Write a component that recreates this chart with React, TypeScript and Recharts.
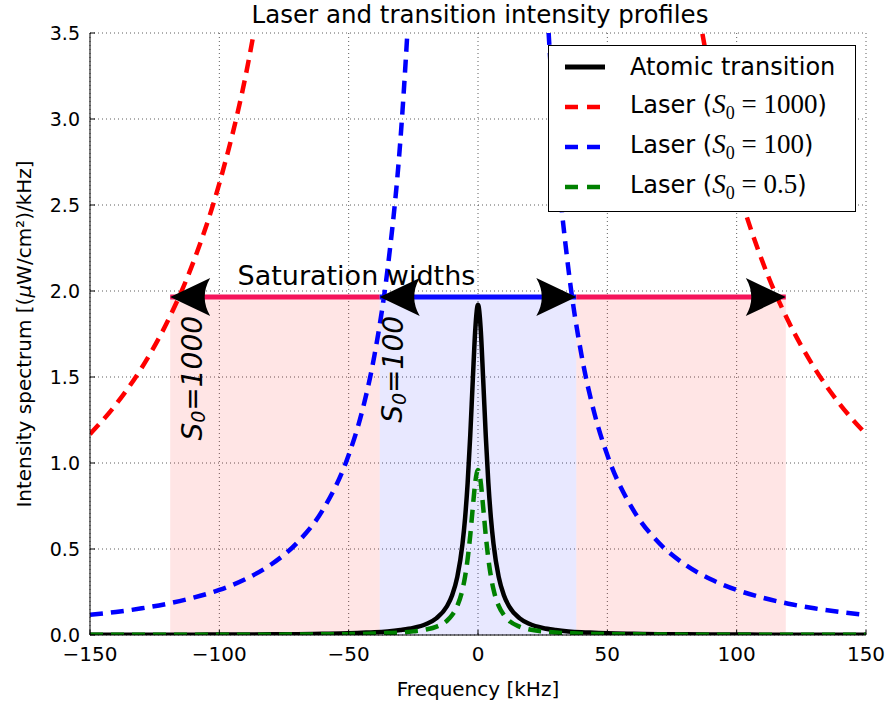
import React from 'react';
import {
  ComposedChart, Line, XAxis, YAxis, CartesianGrid, ReferenceArea, ReferenceLine,
  ReferenceDot, Legend, Customized,
} from 'recharts';

// frequency detuning samples [kHz]
const freqs = [
  -150, -140, -130, -120, -110, -100, -90, -80, -70, -60, -50, -45, -40, -35, -30, -25,
  -20, -16, -12, -10, -8, -6, -5, -4, -3, -2, -1, 0, 1, 2, 3, 4, 5, 6, 8, 10, 12, 16, 20,
  25, 30, 35, 40, 45, 50, 60, 70, 80, 90, 100, 110, 120, 130, 140, 150,
];

// intensity spectra [(uW/cm2)/kHz]
const atomic = [
  0.001, 0.001, 0.002, 0.002, 0.002, 0.003, 0.003, 0.004, 0.005, 0.007, 0.010, 0.013, 0.016,
  0.021, 0.029, 0.041, 0.064, 0.098, 0.167, 0.231, 0.338, 0.529, 0.679, 0.885, 1.159, 1.486,
  1.789, 1.92, 1.789, 1.486, 1.159, 0.885, 0.679, 0.529, 0.338, 0.231, 0.167, 0.098, 0.064,
  0.041, 0.029, 0.021, 0.016, 0.013, 0.010, 0.007, 0.005, 0.004, 0.003, 0.003, 0.002, 0.002,
  0.002, 0.001, 0.001,
];
const laser1000 = [
  1.168, 1.340, 1.554, 1.824, 2.170, 2.625, 3.239, 4.098,
  null, null, null, null, null, null, null, null, null, null, null, null, null, null, null,
  null, null, null, null, null, null, null, null, null, null, null, null, null, null, null,
  null, null, null, null, null, null, null, null, null,
  4.098, 3.239, 2.625, 2.170, 1.824, 1.554, 1.340, 1.168,
];
const laser100 = [
  0.117, 0.134, 0.155, 0.182, 0.217, 0.262, 0.324, 0.410, 0.535, 0.727, 1.046, 1.289, 1.629,
  2.122, 2.877, 4.116,
  null, null, null, null, null, null, null, null, null, null, null, null, null, null, null,
  null, null, null, null, null, null, null, null,
  4.116, 2.877, 2.122, 1.629, 1.289, 1.046, 0.727, 0.535, 0.410, 0.324, 0.262, 0.217, 0.182,
  0.155, 0.134, 0.117,
];
const laser05 = [
  0.001, 0.001, 0.001, 0.001, 0.001, 0.001, 0.002, 0.002, 0.003, 0.004, 0.005, 0.006, 0.008,
  0.011, 0.014, 0.021, 0.032, 0.049, 0.083, 0.116, 0.169, 0.264, 0.340, 0.443, 0.579, 0.743,
  0.895, 0.96, 0.895, 0.743, 0.579, 0.443, 0.340, 0.264, 0.169, 0.116, 0.083, 0.049, 0.032,
  0.021, 0.014, 0.011, 0.008, 0.006, 0.005, 0.004, 0.003, 0.002, 0.002, 0.001, 0.001, 0.001,
  0.001, 0.001, 0.001,
];

const xTicks = [-150, -100, -50, 0, 50, 100, 150];
const yTicks = [0, 0.5, 1, 1.5, 2, 2.5, 3, 3.5];

// saturation half widths [kHz] for S0 = 1000 and S0 = 100, and the arrow level
const satWidths = [119, 38];
const satLabels = ['1000', '100'];
const satLabelX = [-110.5, -33];
const arrowLevel = 1.965;

const series = [
  { key: 'atomic', label: 'Atomic transition', s0: '', color: '#000000', dashed: false },
  { key: 'laser1000', label: 'Laser', s0: '1000', color: '#ff0000', dashed: true },
  { key: 'laser100', label: 'Laser', s0: '100', color: '#0000ff', dashed: true },
  { key: 'laser05', label: 'Laser', s0: '0.5', color: '#008000', dashed: true },
];

const rows = freqs.map((f, i) => ({
  freq: f,
  atomic: atomic[i],
  laser1000: laser1000[i],
  laser100: laser100[i],
  laser05: laser05[i],
}));

const font = '"DejaVu Sans", sans-serif';
const mathFont = '"Liberation Serif", serif';
const DASH = '13 8';

const fmtX = (v: number) => String(v).replace('-', '\u2212');

const ArrowHead = ({ cx, cy, dir }: { cx: number; cy: number; dir: number }) => {
  const b = cx - dir * 40;
  const n = cx - dir * 29;
  return <path d={`M${cx},${cy} L${b},${cy - 19} Q${n},${cy} ${b},${cy + 19} Z`} fill="#000" />;
};

const LegendBox = () => (
  <div style={{
    border: '1px solid #000', background: '#fff', width: 308, height: 167, boxSizing: 'border-box',
    paddingTop: 1, paddingLeft: 16, fontFamily: font, fontSize: 24, color: '#000',
  }}>
    {series.map((s) => (
      <div key={s.key} style={{ display: 'flex', alignItems: 'center', height: 40 }}>
        <svg width={40} height={10} style={{ flex: 'none' }}>
          <line x1={0} x2={s.dashed ? 36 : 40} y1={5} y2={5} stroke={s.color}
            strokeWidth={s.dashed ? 4.5 : 5} strokeDasharray={s.dashed ? '13 9' : undefined} />
        </svg>
        <span style={{ marginLeft: 25, whiteSpace: 'nowrap' }}>
          {s.label}
          {s.s0 && (
            <>
              {' ('}
              <span style={{ fontFamily: mathFont, fontSize: 27 }}>
                <i>S</i><sub style={{ fontSize: 18 }}>0</sub>{' = '}{s.s0}
              </span>
              {')'}
            </>
          )}
        </span>
      </div>
    ))}
  </div>
);

const Texts = () => (
  <g fontFamily={font} fill="#000">
    <text x={480} y={23} textAnchor="middle" fontSize={24.5}>Laser and transition intensity profiles</text>
    <text x={478} y={696} textAnchor="middle" fontSize={20}>Frequency [kHz]</text>
    <text x={31} y={334} textAnchor="middle" fontSize={20} transform="rotate(-90 31 334)">
      Intensity spectrum [(<tspan fontStyle="italic">μ</tspan>W/cm²)/kHz]
    </text>
  </g>
);

export default function App() {
  const L = arrowLevel;
  const [wide, narrow] = satWidths;
  return (
    <div style={{ position: 'absolute', left: 0, top: 0, width: 891, height: 703, background: '#fff' }}>
      <ComposedChart width={891} height={703} data={rows}
        margin={{ top: 33, right: 25, left: 30, bottom: 38 }} style={{ fontFamily: font }}>
        <CartesianGrid stroke="#333" strokeDasharray="1 3" strokeWidth={0.8} />
        <XAxis dataKey="freq" type="number" domain={[-150, 150]} ticks={xTicks} allowDataOverflow
          tickFormatter={fmtX} height={30} stroke="#000" tickSize={-5} tickMargin={17}
          tick={{ fill: '#000', fontSize: 20 }} />
        <XAxis xAxisId="top" orientation="top" dataKey="freq" type="number" domain={[-150, 150]}
          ticks={xTicks} height={0} stroke="#000" tickSize={-5} tick={false} />
        <YAxis type="number" domain={[0, 3.5]} ticks={yTicks} allowDataOverflow width={60}
          tickFormatter={(v: number) => v.toFixed(1)} stroke="#000" tickSize={-5} tickMargin={15}
          tick={{ fill: '#000', fontSize: 19 }} />
        <YAxis yAxisId="right" orientation="right" type="number" domain={[0, 3.5]} ticks={yTicks}
          width={0} stroke="#000" tickSize={-5} tick={false} />

        <ReferenceArea x1={-wide} x2={-narrow} y1={0} y2={L} fill="#ff0000" fillOpacity={0.1} stroke="none" />
        <ReferenceArea x1={-narrow} x2={narrow} y1={0} y2={L} fill="#0000ff" fillOpacity={0.09} stroke="none" />
        <ReferenceArea x1={narrow} x2={wide} y1={0} y2={L} fill="#ff0000" fillOpacity={0.1} stroke="none" />

        {series.map((s) => (
          <Line key={s.key} dataKey={s.key} type="monotone" stroke={s.color} strokeWidth={4.5}
            strokeDasharray={s.dashed ? DASH : undefined} dot={false} activeDot={false}
            connectNulls={false} isAnimationActive={false} />
        ))}

        <ReferenceLine segment={[{ x: -wide, y: L }, { x: -narrow, y: L }]} stroke="#f5145a" strokeWidth={5} />
        <ReferenceLine segment={[{ x: -narrow, y: L }, { x: narrow, y: L }]} stroke="#0a0aff" strokeWidth={5} />
        <ReferenceLine segment={[{ x: narrow, y: L }, { x: wide, y: L }]} stroke="#f5145a" strokeWidth={5} />

        {[-wide, -narrow, narrow, wide].map((x) => (
          <ReferenceDot key={`arrow${x}`} x={x} y={L} ifOverflow="visible"
            shape={(p: any) => <ArrowHead cx={p.cx} cy={p.cy} dir={x < 0 ? -1 : 1} />} />
        ))}

        <ReferenceDot x={-47} y={2.035} ifOverflow="visible"
          shape={(p: any) => (
            <text x={p.cx} y={p.cy} textAnchor="middle" fontSize={27} fontFamily={font} fill="#000">
              Saturation widths
            </text>
          )} />

        {satLabelX.map((lx, i) => (
          <ReferenceDot key={`lab${i}`} x={lx} y={1.855} ifOverflow="visible"
            shape={(p: any) => (
              <text x={p.cx} y={p.cy} textAnchor="end" dominantBaseline="central" fontSize={28}
                fontStyle="italic" fontFamily={font} fill="#000" transform={`rotate(-90 ${p.cx} ${p.cy})`}>
                S<tspan dy={6} fontSize={19}>0</tspan><tspan dy={-6}>={satLabels[i]}</tspan>
              </text>
            )} />
        ))}

        <Customized component={Texts} />
        <Legend layout="vertical" align="center" verticalAlign="middle" content={() => <LegendBox />}
          wrapperStyle={{ left: 548, top: 45, width: 308, height: 167 }} />
      </ComposedChart>
    </div>
  );
}
